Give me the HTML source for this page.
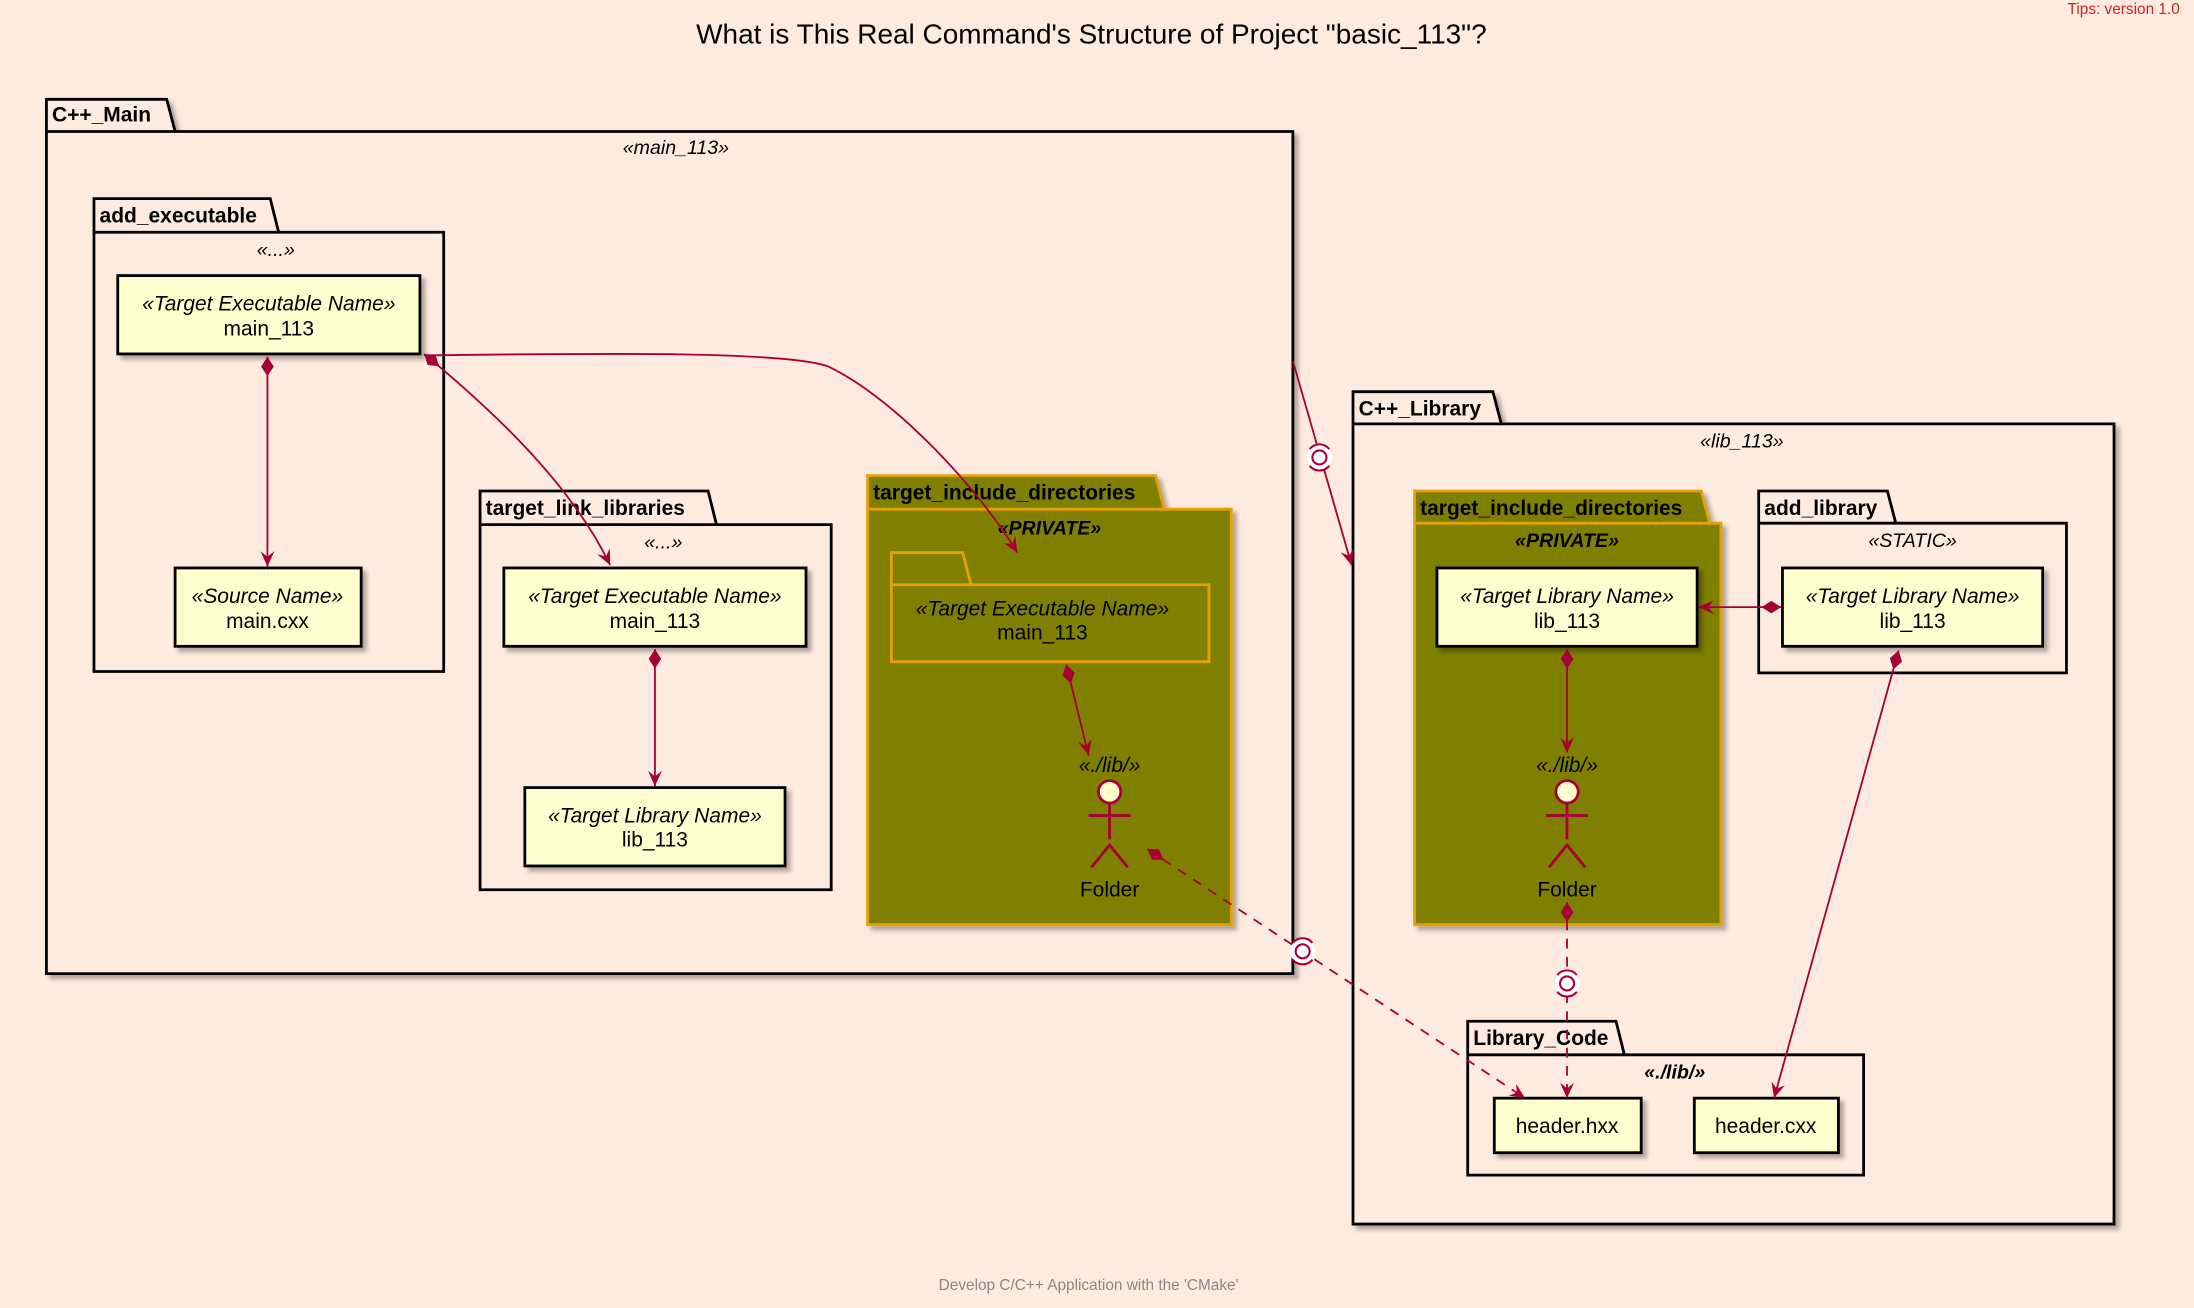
<!DOCTYPE html>
<html><head><meta charset="utf-8"><style>
html,body{margin:0;padding:0;background:#FEEBDF;}
svg{display:block;}
text{font-family:"Liberation Sans","DejaVu Sans",sans-serif;}
</style></head><body>
<svg width="2194" height="1308" viewBox="0 0 1568 935" xmlns="http://www.w3.org/2000/svg">
<defs>
<filter id="sh" x="-5%" y="-5%" width="115%" height="115%"><feDropShadow dx="3" dy="3" stdDeviation="1.5" flood-color="#000" flood-opacity="0.3"/></filter>
<marker id="ar" viewBox="0 0 12 10" refX="11" refY="5" markerWidth="12" markerHeight="10" markerUnits="userSpaceOnUse" orient="auto"><path d="M0,0 L11,5 L0,10 L4,5 Z" fill="#A80036"/></marker>
<marker id="dm" viewBox="0 0 16 10" refX="1" refY="5" markerWidth="16" markerHeight="10" markerUnits="userSpaceOnUse" orient="auto"><path d="M1,5 L8,0.5 L15,5 L8,9.5 Z" fill="#A80036"/></marker>
</defs>
<rect width="1568" height="935" fill="#FEEBDF"/>
<text x="1558" y="10" font-size="11" fill="#D0202A" text-anchor="end">Tips: version 1.0</text>
<text x="780" y="31" font-size="20" text-anchor="middle">What is This Real Command's Structure of Project "basic_113"?</text>
<text x="778" y="922" font-size="11" fill="#888" text-anchor="middle">Develop C/C++ Application with the 'CMake'</text>

<g stroke="#000" stroke-width="2" fill="#FEEBDF" filter="url(#sh)">
<path d="M33,94 L33,71 L119,71 L125,94 L924,94 L924,696 L33,696 Z"/>
<path d="M67,166 L67,142 L193,142 L199,166 L317,166 L317,480 L67,480 Z"/>
<path d="M343,375 L343,351 L506,351 L512,375 L594,375 L594,636 L343,636 Z"/>
<path d="M967,303 L967,280 L1067,280 L1073,303 L1511,303 L1511,875 L967,875 Z"/>
<path d="M1257,374 L1257,351 L1349,351 L1355,374 L1477,374 L1477,481 L1257,481 Z"/>
<path d="M1049,754 L1049,730 L1155,730 L1161,754 L1332,754 L1332,840 L1049,840 Z"/>
</g>
<g stroke="#E8A000" stroke-width="2" fill="#808000" filter="url(#sh)">
<path d="M620,364 L620,340 L826,340 L832,364 L880,364 L880,661 L620,661 Z"/>
<path d="M1011,374 L1011,351 L1216,351 L1222,374 L1230,374 L1230,661 L1011,661 Z"/>
<path d="M637,418 L637,395 L688,395 L694,418 L864,418 L864,473 L637,473 Z"/>
</g>
<g stroke="#000" stroke-width="2" fill="none">
<line x1="33" y1="94" x2="125" y2="94"/><line x1="67" y1="166" x2="199" y2="166"/>
<line x1="343" y1="375" x2="512" y2="375"/><line x1="967" y1="303" x2="1073" y2="303"/>
<line x1="1257" y1="374" x2="1355" y2="374"/><line x1="1049" y1="754" x2="1161" y2="754"/>
</g>
<g stroke="#E8A000" stroke-width="2"><line x1="620" y1="364" x2="832" y2="364"/><line x1="1011" y1="374" x2="1222" y2="374"/><line x1="637" y1="418" x2="694" y2="418"/></g>

<g font-size="15" font-weight="bold">
<text x="37" y="87">C++_Main</text>
<text x="71" y="159">add_executable</text>
<text x="347" y="368">target_link_libraries</text>
<text x="624" y="357">target_include_directories</text>
<text x="971" y="297">C++_Library</text>
<text x="1015" y="368">target_include_directories</text>
<text x="1261" y="368">add_library</text>
<text x="1053" y="747">Library_Code</text>
</g>
<g font-size="14" font-style="italic" text-anchor="middle">
<text x="483" y="110">«main_113»</text>
<text x="197" y="183">«...»</text>
<text x="474" y="392">«...»</text>
<text x="750" y="382" font-weight="bold">«PRIVATE»</text>
<text x="1245" y="320">«lib_113»</text>
<text x="1120" y="391" font-weight="bold">«PRIVATE»</text>
<text x="1367" y="391">«STATIC»</text>
<text x="1197" y="771" font-weight="bold">«./lib/»</text>
</g>

<g fill="#FEFECE" stroke="#000" stroke-width="2" filter="url(#sh)">
<rect x="84" y="197" width="216" height="56"/>
<rect x="125" y="406" width="133" height="56"/>
<rect x="360" y="406" width="216" height="56"/>
<rect x="375" y="563" width="186" height="56"/>
<rect x="1027" y="406" width="186" height="56"/>
<rect x="1274" y="406" width="186" height="56"/>
<rect x="1068" y="785" width="105" height="39"/>
<rect x="1211" y="785" width="103" height="39"/>
</g>
<g font-size="15" text-anchor="middle">
<text x="192" y="222" font-style="italic">«Target Executable Name»</text><text x="192" y="240">main_113</text>
<text x="191" y="431" font-style="italic">«Source Name»</text><text x="191" y="449">main.cxx</text>
<text x="468" y="431" font-style="italic">«Target Executable Name»</text><text x="468" y="449">main_113</text>
<text x="468" y="588" font-style="italic">«Target Library Name»</text><text x="468" y="605">lib_113</text>
<text x="745" y="440" font-style="italic">«Target Executable Name»</text><text x="745" y="457">main_113</text>
<text x="1120" y="431" font-style="italic">«Target Library Name»</text><text x="1120" y="449">lib_113</text>
<text x="1367" y="431" font-style="italic">«Target Library Name»</text><text x="1367" y="449">lib_113</text>
<text x="1120" y="810">header.hxx</text>
<text x="1262" y="810">header.cxx</text>
<text x="793" y="552" font-style="italic">«./lib/»</text><text x="793" y="641">Folder</text>
<text x="1120" y="552" font-style="italic">«./lib/»</text><text x="1120" y="641">Folder</text>
</g>
<g stroke="#A80036" stroke-width="2" fill="none">
<circle cx="793" cy="566" r="8" fill="#FEFECE"/><path d="M793,574 V600 M778,583 H808 M780,620 L793,604 L806,620"/>
<circle cx="1120" cy="566" r="8" fill="#FEFECE"/><path d="M1120,574 V600 M1105,583 H1135 M1107,620 L1120,604 L1133,620"/>
</g>

<g stroke="#A80036" stroke-width="1.3" fill="none">
<path d="M191,255 L191,405" marker-start="url(#dm)" marker-end="url(#ar)"/>
<path d="M303,253 C360,300 410,350 436,404" marker-start="url(#dm)" marker-end="url(#ar)"/>
<path d="M303,254 C400,253 560,250 592,262 C640,285 700,350 727,395" marker-end="url(#ar)"/>
<path d="M468,464 L468,562" marker-start="url(#dm)" marker-end="url(#ar)"/>
<path d="M762,475 L778,540" marker-start="url(#dm)" marker-end="url(#ar)"/>
<path d="M1120,464 L1120,538" marker-start="url(#dm)" marker-end="url(#ar)"/>
<path d="M1273,434 L1214,434" marker-start="url(#dm)" marker-end="url(#ar)"/>
<path d="M1357,465 L1268,785" marker-start="url(#dm)" marker-end="url(#ar)"/>
<path d="M924,258 L966,404" marker-end="url(#ar)"/>
<path d="M820,607 L1090,785" stroke-dasharray="7,6" marker-start="url(#dm)" marker-end="url(#ar)"/>
<path d="M1120,645 L1120,785" stroke-dasharray="7,6" marker-start="url(#dm)" marker-end="url(#ar)"/>
</g>
<g stroke="#A80036" stroke-width="1.5">
<circle cx="943" cy="327" r="9" fill="#fff" stroke="none"/><circle cx="943" cy="327" r="5" fill="#fff"/>
<path d="M936,321 A9,9 0 0 1 950,321 M936,333 A9,9 0 0 0 950,333" fill="none"/>
<circle cx="931" cy="680" r="9" fill="#fff" stroke="none"/><circle cx="931" cy="680" r="5" fill="#fff"/>
<path d="M924,674 A9,9 0 0 1 938,674 M924,686 A9,9 0 0 0 938,686" fill="none"/>
<circle cx="1120" cy="703" r="9" fill="#fff" stroke="none"/><circle cx="1120" cy="703" r="5" fill="#fff"/>
<path d="M1113,697 A9,9 0 0 1 1127,697 M1113,709 A9,9 0 0 0 1127,709" fill="none"/>
</g>
</svg>
</body></html>
